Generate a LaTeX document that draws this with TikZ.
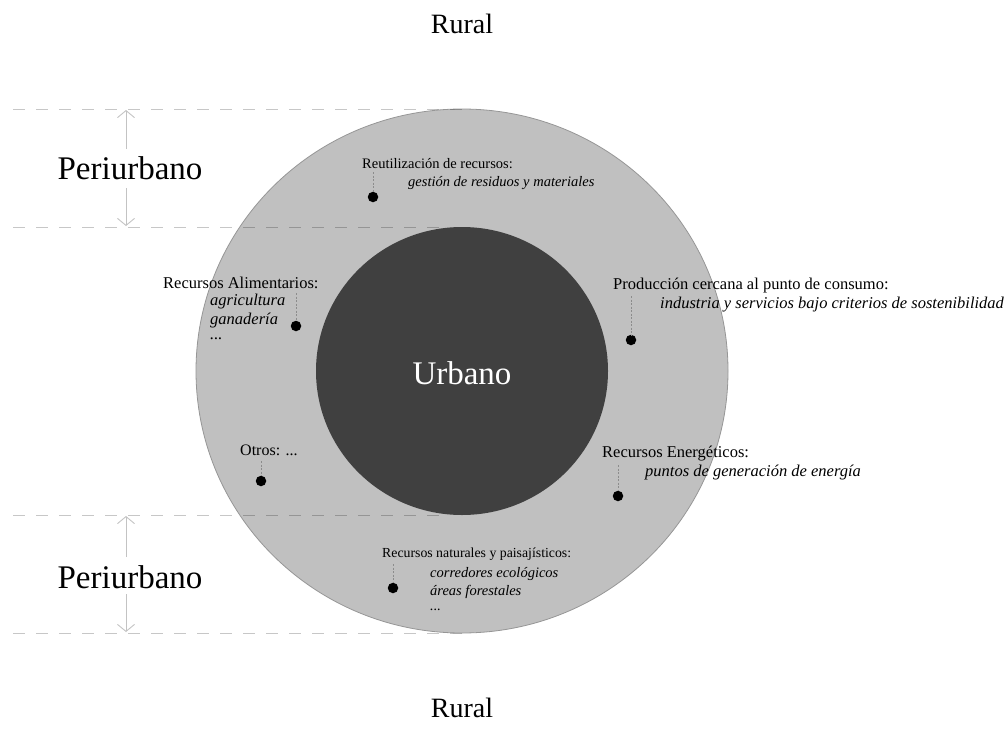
\documentclass[tikz,border=0pt]{standalone}
\usepackage{fontspec}
\setmainfont{Liberation Serif}
\usetikzlibrary{arrows.meta}
\definecolor{ringgray}{RGB}{192,192,192}
\definecolor{ringline}{RGB}{150,150,150}
\definecolor{coregray}{RGB}{64,64,64}
\definecolor{arrowgray}{RGB}{195,195,195}
\definecolor{leadgray}{RGB}{140,140,140}
\tikzset{
  big/.style={font=\fontsize{33}{38}\selectfont, inner sep=0pt},
  rural/.style={font=\fontsize{28}{32}\selectfont, inner sep=0pt},
  lab/.style={font=\fontsize{14.5}{17}\selectfont, anchor=west, inner sep=0pt},
  itlab/.style={font=\fontsize{14.5}{17}\selectfont\itshape, anchor=west, inner sep=0pt},
  labL/.style={font=\fontsize{16.5}{19}\selectfont, anchor=west, inner sep=0pt},
  itlabL/.style={font=\fontsize{16.5}{19}\selectfont\itshape, anchor=west, inner sep=0pt},
  spot/.style={circle, fill=black, inner sep=0pt, minimum size=10.5pt},
  leader/.style={draw=leadgray, line width=0.6pt, dash pattern=on 2pt off 1.5pt},
  band/.style={draw=black, draw opacity=0.22, line width=1pt, dash pattern=on 12pt off 11pt},
  span/.style={draw=arrowgray, line width=0.9pt, -{Straight Barb[length=7pt,width=17pt]}}
}
\begin{document}
\begin{tikzpicture}[x=1pt,y=-1pt]
\useasboundingbox (0,0) rectangle (1006,728);
% rings
\fill[ringgray, draw=ringline, line width=0.8pt] (462,371) ellipse [x radius=266, y radius=262];
% band limits
\coordinate (t1a) at (13,109); \coordinate (t1b) at (462,109);
\coordinate (t2a) at (13,227); \coordinate (t2b) at (445,227);
\coordinate (b1a) at (13,515); \coordinate (b1b) at (445,515);
\coordinate (b2a) at (13,633); \coordinate (b2b) at (462,633);
\draw[band] (t1a) -- (t1b);
\draw[band] (t2a) -- (t2b);
\draw[band] (b1a) -- (b1b);
\draw[band] (b2a) -- (b2b);
\fill[coregray] (462,371) ellipse [x radius=146, y radius=144];
% titles
\node[rural] (ruraltop) at (462,24) {Rural};
\node[rural] (ruralbot) at (462,708) {Rural};
\node[big, text=white] (urbano) at (462,373) {Urbano};
\node[big] (peri1) at (130,168) {Periurbano};
\node[big] (peri2) at (130,577) {Periurbano};
% arrows
\coordinate (a1) at (126,149); \coordinate (a1t) at (126,110);
\coordinate (a2) at (126,188); \coordinate (a2t) at (126,226);
\coordinate (a3) at (126,557); \coordinate (a3t) at (126,516);
\coordinate (a4) at (126,594); \coordinate (a4t) at (126,632);
\draw[span] (a1) -- (a1t);
\draw[span] (a2) -- (a2t);
\draw[span] (a3) -- (a3t);
\draw[span] (a4) -- (a4t);
% Reutilización
\node[lab] (reu) at (362,164) {Reutilización de recursos:};
\node[itlab] (reu2) at (408,183) {gestión de residuos y materiales};
\node[spot] (dreu) at (373,197) {};
\coordinate (lreu) at (373,172);
\draw[leader] (lreu) -- (dreu);
% Alimentarios
\node[labL] (ali) at (163,283) {Recursos Alimentarios:};
\node[itlabL] (ali2) at (210,302) {agricultura};
\node[itlabL] (ali3) at (210,321) {ganadería};
\node[itlabL] (ali4) at (210,339) {...};
\node[spot] (dali) at (296,326) {};
\coordinate (lali) at (296,293);
\draw[leader] (lali) -- (dali);
% Producción
\node[labL] (pro) at (613,286) {Producción cercana al punto de consumo:};
\node[itlabL] (pro2) at (660,305) {industria y servicios bajo criterios de sostenibilidad};
\node[spot] (dpro) at (631,340) {};
\coordinate (lpro) at (631,296);
\draw[leader] (lpro) -- (dpro);
% Otros
\node[labL, font=\fontsize{16}{19}\selectfont] (otr) at (240,450) {Otros: ...};
\node[spot] (dotr) at (261,481) {};
\coordinate (lotr) at (261,461);
\draw[leader] (lotr) -- (dotr);
% Energéticos
\node[labL] (ene) at (602,454) {Recursos Energéticos:};
\node[itlabL] (ene2) at (645,473) {puntos de generación de energía};
\node[spot] (dene) at (618,496) {};
\coordinate (lene) at (618,465);
\draw[leader] (lene) -- (dene);
% Naturales
\node[lab, font=\fontsize{13.8}{16}\selectfont] (nat) at (382,554) {Recursos naturales y paisajísticos:};
\node[itlab] (nat2) at (430,574) {corredores ecológicos};
\node[itlab] (nat3) at (430,592) {áreas forestales};
\node[itlab] (nat4) at (430,610) {...};
\node[spot] (dnat) at (393,588) {};
\coordinate (lnat) at (393,564);
\draw[leader] (lnat) -- (dnat);
\end{tikzpicture}
\end{document}
